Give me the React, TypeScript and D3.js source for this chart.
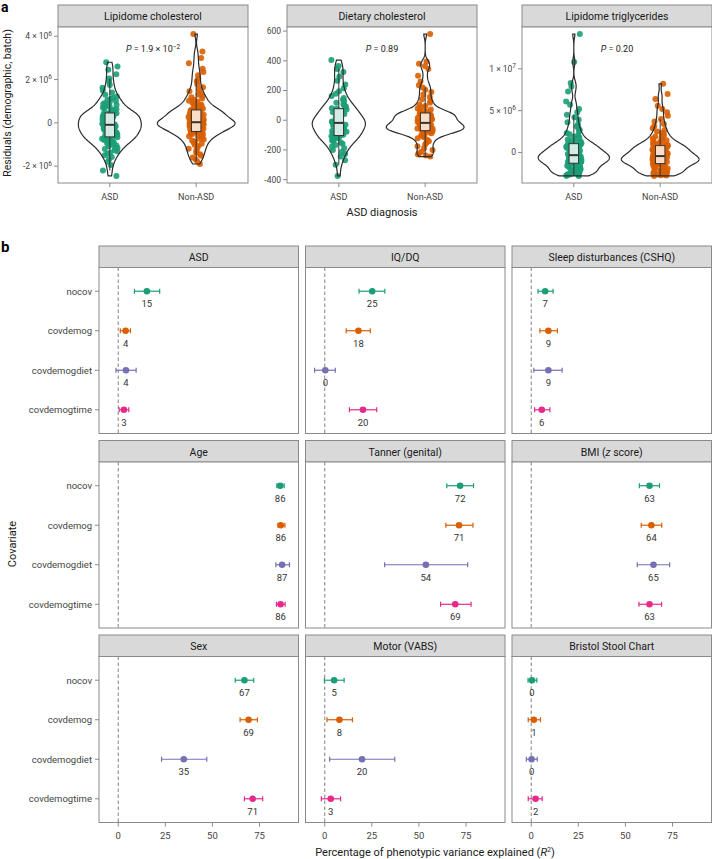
import { area, deviation, extent, max, min, quantile, range, scaleLinear, scalePoint } from 'd3'

const width = 712
const height = 859
const font = 'Roboto, "Noto Sans", sans-serif'
const frameGray = '#8a8a8a'
const stripFill = '#d9d9d9'
const textDark = '#1a1a1a'
const textTick = '#444444'

// ---------- panel a: residuals by ASD diagnosis ----------
const groups = ['ASD', 'Non-ASD']
const groupColors = ['#1b9e77', '#d95f02']
const boxFills = ['#d3ebe2', '#fbdcc6']

// lipidome cholesterol residuals, x 10^6
const lipidCholAsd = [
  -2.45, -2.2, -1.95, -1.8, -1.68, -1.58, -1.5, -1.43, -1.37, -1.31, -1.26, -1.21, -1.16, -1.12, -1.08, -1.04, -1.0, -0.97, -0.94, -0.91, -0.88, -0.85, -0.82, -0.79, -0.77, -0.75, -0.73, -0.71, -0.69, -0.67,
  -0.64, -0.62, -0.6, -0.58, -0.56, -0.54, -0.52, -0.5, -0.48, -0.46, -0.44, -0.42, -0.4, -0.38, -0.36, -0.34, -0.32, -0.3, -0.28, -0.26, -0.24, -0.22, -0.2, -0.18, -0.16, -0.14, -0.13, -0.12, -0.11, -0.1,
  -0.08, -0.06, -0.04, -0.02, 0.0, 0.02, 0.04, 0.06, 0.08, 0.1, 0.12, 0.14, 0.16, 0.18, 0.2, 0.22, 0.24, 0.26, 0.28, 0.3, 0.32, 0.34, 0.36, 0.38, 0.39, 0.4, 0.41, 0.42, 0.44, 0.45,
  0.48, 0.51, 0.54, 0.57, 0.6, 0.63, 0.67, 0.71, 0.75, 0.79, 0.83, 0.87, 0.91, 0.96, 1.01, 1.06, 1.11, 1.16, 1.22, 1.3, 1.4, 1.5, 1.62, 1.75, 1.9, 2.05, 2.25, 2.45, 2.6, 2.8,
]
const lipidCholNonAsd = [
  -1.9, -1.78, -1.68, -1.6, -1.52, -1.45, -1.38, -1.31, -1.25, -1.19, -1.13, -1.07, -1.01, -0.96, -0.91, -0.86, -0.81, -0.77, -0.73, -0.69, -0.65, -0.62, -0.59, -0.56, -0.53, -0.5, -0.48, -0.46, -0.44, -0.42,
  -0.39, -0.37, -0.35, -0.33, -0.31, -0.29, -0.27, -0.25, -0.23, -0.21, -0.2, -0.18, -0.16, -0.15, -0.13, -0.12, -0.1, -0.09, -0.07, -0.06, -0.05, -0.04, -0.03, -0.02, -0.01, 0.0, 0.0, 0.01, 0.02, 0.02,
  0.04, 0.05, 0.07, 0.09, 0.11, 0.13, 0.15, 0.17, 0.19, 0.21, 0.23, 0.25, 0.27, 0.29, 0.31, 0.33, 0.35, 0.37, 0.39, 0.41, 0.43, 0.45, 0.47, 0.49, 0.51, 0.53, 0.55, 0.57, 0.58, 0.59,
  0.62, 0.65, 0.68, 0.72, 0.76, 0.8, 0.84, 0.88, 0.92, 0.97, 1.02, 1.07, 1.12, 1.18, 1.24, 1.3, 1.38, 1.46, 1.55, 1.65, 1.78, 1.92, 2.05, 2.2, 2.35, 2.5, 2.75, 3.0, 3.3, 4.1,
]
// dietary cholesterol residuals
const dietCholAsd = [
  -375, -300, -270, -245, -228, -214, -200, -188, -177, -167, -158, -150, -142, -135, -128, -122, -117, -112, -108, -106,
  -102, -97, -92, -87, -82, -77, -72, -67, -62, -57, -52, -47, -42, -38, -34, -30, -26, -23, -21, -19,
  -17, -13, -9, -5, -1, 3, 7, 12, 17, 22, 27, 32, 37, 42, 48, 54, 60, 66, 72, 77,
  80, 86, 93, 100, 108, 117, 127, 138, 150, 163, 178, 195, 215, 240, 265, 295, 325, 345, 365, 405,
]
const dietCholNonAsd = [
  -245, -238, -230, -222, -212, -200, -188, -176, -164, -152, -141, -131, -122, -114, -107, -101, -96, -91, -87, -83, -80, -77, -75, -73, -72,
  -70, -68, -66, -64, -62, -60, -58, -56, -54, -52, -50, -48, -46, -44, -42, -40, -38, -36, -34, -31, -28, -25, -23, -21, -19,
  -17, -14, -11, -8, -5, -2, 1, 4, 7, 10, 13, 16, 19, 22, 25, 28, 31, 34, 37, 40, 42, 44, 46, 47, 48,
  51, 55, 60, 66, 72, 79, 87, 96, 106, 117, 129, 142, 157, 173, 190, 205, 220, 235, 260, 300, 345, 365, 380, 395, 580,
]
// lipidome triglyceride residuals, x 10^6
const lipidTgAsd = [
  -2.8, -2.77, -2.74, -2.7, -2.66, -2.62, -2.57, -2.52, -2.47, -2.42, -2.37, -2.32, -2.27, -2.22, -2.17, -2.12, -2.07, -2.02, -1.96, -1.9, -1.84, -1.78, -1.72, -1.66, -1.6, -1.54, -1.48, -1.43, -1.38, -1.33,
  -1.27, -1.24, -1.21, -1.18, -1.15, -1.12, -1.09, -1.06, -1.03, -1.0, -0.97, -0.94, -0.9, -0.86, -0.82, -0.78, -0.74, -0.7, -0.66, -0.62, -0.58, -0.55, -0.52, -0.49, -0.46, -0.43, -0.4, -0.38, -0.36, -0.34,
  -0.3, -0.26, -0.22, -0.18, -0.14, -0.1, -0.06, -0.02, 0.02, 0.06, 0.1, 0.15, 0.2, 0.25, 0.3, 0.35, 0.4, 0.45, 0.5, 0.55, 0.6, 0.65, 0.7, 0.75, 0.8, 0.85, 0.9, 0.95, 1.0, 1.04,
  1.1, 1.18, 1.26, 1.35, 1.45, 1.55, 1.66, 1.78, 1.9, 2.04, 2.18, 2.34, 2.5, 2.7, 2.9, 3.1, 3.35, 3.6, 3.9, 4.2, 4.5, 4.8, 5.2, 5.7, 6.1, 7.3, 7.9, 8.3, 10.8, 14.15,
]
const lipidTgNonAsd = [
  -2.8, -2.76, -2.72, -2.67, -2.62, -2.57, -2.52, -2.47, -2.42, -2.37, -2.32, -2.27, -2.22, -2.17, -2.12, -2.07, -2.02, -1.97, -1.92, -1.86, -1.8, -1.74, -1.68, -1.62, -1.57, -1.52, -1.47, -1.43, -1.39, -1.36,
  -1.32, -1.29, -1.26, -1.23, -1.2, -1.17, -1.14, -1.11, -1.08, -1.05, -1.02, -0.99, -0.96, -0.93, -0.9, -0.87, -0.84, -0.81, -0.78, -0.75, -0.72, -0.69, -0.66, -0.63, -0.6, -0.57, -0.54, -0.51, -0.48, -0.45,
  -0.41, -0.37, -0.33, -0.29, -0.25, -0.21, -0.17, -0.13, -0.09, -0.05, -0.01, 0.03, 0.07, 0.11, 0.15, 0.19, 0.23, 0.28, 0.33, 0.38, 0.43, 0.48, 0.53, 0.58, 0.63, 0.68, 0.72, 0.76, 0.79, 0.81,
  0.86, 0.92, 0.98, 1.05, 1.12, 1.2, 1.28, 1.37, 1.46, 1.56, 1.66, 1.78, 1.9, 2.04, 2.18, 2.34, 2.5, 2.7, 2.9, 3.15, 3.4, 3.7, 4.0, 4.4, 4.8, 5.2, 5.6, 6.4, 7.0, 8.2,
]

const violinTitles = ['Lipidome cholesterol', 'Dietary cholesterol', 'Lipidome triglycerides']
const violinUnits = [1e6, 1, 1e6]
const violinSeries = [
  [lipidCholAsd, lipidCholNonAsd],
  [dietCholAsd, dietCholNonAsd],
  [lipidTgAsd, lipidTgNonAsd],
]
const violinTicks = [
  [-2e6, 0, 2e6, 4e6],
  [-400, -200, 0, 200, 400, 600],
  [0, 5e6, 1e7],
]
const pValues = [
  { mantissa: '1.9', exponent: '−2' },
  { mantissa: '0.89', exponent: '' },
  { mantissa: '0.20', exponent: '' },
]

// ---------- panel b: variance explained ----------
const covariates = ['nocov', 'covdemog', 'covdemogdiet', 'covdemogtime']
const covariateColors = ['#1b9e77', '#d95f02', '#7570b3', '#e7298a']
const phenotypes = [
  'ASD', 'IQ/DQ', 'Sleep disturbances (CSHQ)',
  'Age', 'Tanner (genital)', 'BMI (z score)',
  'Sex', 'Motor (VABS)', 'Bristol Stool Chart',
]
const r2Estimate = [
  [15.2, 3.9, 4.1, 3.0], [25.2, 17.9, 0.3, 20.3], [7.4, 9.1, 9.1, 5.6],
  [86.0, 86.3, 87.0, 86.2], [71.9, 71.3, 53.7, 69.3], [62.8, 63.8, 64.9, 62.8],
  [67.0, 69.2, 34.8, 71.4], [5.0, 7.8, 19.8, 3.2], [0.4, 1.4, 0.2, 2.3],
]
const r2Lower = [
  [8.6, 1.1, -1.2, 0.5], [18.2, 11.4, -5.4, 13.1], [3.6, 4.6, 1.4, 1.8],
  [84.2, 84.8, 83.7, 84.0], [64.8, 64.3, 31.8, 61.5], [57.4, 58.4, 56.3, 57.2],
  [62.1, 64.7, 23.0, 67.0], [-0.2, 1.2, 2.6, -1.8], [-1.7, -1.6, -2.6, -1.6],
]
const r2Upper = [
  [22.0, 6.5, 9.5, 5.6], [31.9, 24.2, 5.6, 27.6], [11.6, 13.9, 16.4, 9.9],
  [88.1, 88.5, 90.9, 88.6], [79.0, 78.7, 75.9, 77.7], [68.1, 69.3, 73.5, 69.2],
  [71.9, 73.9, 47.0, 76.7], [10.3, 14.7, 37.2, 8.4], [3.0, 4.9, 3.2, 5.8],
]
const r2Ticks = [0, 25, 50, 75]

// ---------- layout ----------
const aLefts = [58, 287, 522]
const aWidth = 190
const aStripTop = 5
const aPlotTop = 27
const aPlotBottom = 183

const bLefts = [99, 305.5, 512]
const bWidth = 199.5
const bRowTops = [246, 440.5, 635]
const bStrip = 21.5
const bPanelH = 166

// helpers
const kde = (values: number[]) => {
  const s = [...values].sort((a, b) => a - b)
  const n = s.length
  const q1 = quantile(s, 0.25) ?? 0
  const q3 = quantile(s, 0.75) ?? 0
  const bw = 0.8 * 0.9 * Math.min(deviation(s) ?? 1, (q3 - q1) / 1.34) * Math.pow(n, -0.2)
  const lo = s[0]
  const hi = s[n - 1]
  return range(0, 256).map((i) => {
    const y = lo + ((hi - lo) * i) / 255
    let sum = 0
    for (const v of s) sum += Math.exp(-0.5 * ((y - v) / bw) ** 2)
    return { y, d: sum / (n * bw * Math.sqrt(2 * Math.PI)) }
  })
}

const boxStats = (values: number[]) => {
  const s = [...values].sort((a, b) => a - b)
  const q1 = quantile(s, 0.25) ?? 0
  const med = quantile(s, 0.5) ?? 0
  const q3 = quantile(s, 0.75) ?? 0
  const iqr = q3 - q1
  const lo = min(s.filter((v) => v >= q1 - 1.5 * iqr)) ?? q1
  const hi = max(s.filter((v) => v <= q3 + 1.5 * iqr)) ?? q3
  return { q1, med, q3, lo, hi }
}

const jitter = (i: number, g: number) => {
  const s = Math.sin((i + 1) * 12.9898 + g * 78.233) * 43758.5453
  return (s - Math.floor(s)) * 2 - 1
}

const sciLabel = (v: number) => {
  if (v === 0) return '0'
  if (Math.abs(v) < 1e4) return v < 0 ? `-${Math.abs(v)}` : `${v}`
  const e = Math.floor(Math.log10(Math.abs(v)))
  const m = v / 10 ** e
  return (
    <>
      {`${m < 0 ? '-' : ''}${Math.abs(m)} × 10`}
      <tspan dy={-3.5} fontSize={6.5}>{e}</tspan>
    </>
  )
}

const stripTitle = (t: string) =>
  t === 'BMI (z score)' ? (
    <>
      BMI (<tspan fontStyle="italic">z</tspan> score)
    </>
  ) : (
    t
  )

const ViolinPanel = ({ idx }: { idx: number }) => {
  const left = aLefts[idx]
  const right = left + aWidth
  const unit = violinUnits[idx]
  const series = violinSeries[idx].map((arr) => arr.map((v) => v * unit))
  const all = series.flat()
  const [lo, hi] = extent(all) as [number, number]
  const pad = (hi - lo) * 0.05
  const y = scaleLinear().domain([lo - pad, hi + pad]).range([aPlotBottom, aPlotTop])
  const x = scalePoint<string>().domain(groups).range([left, right]).padding(0.6)
  const step = x.step()
  const dens = series.map(kde)
  const maxD = max(dens.flat(), (d) => d.d) ?? 1
  const p = pValues[idx]

  return (
    <g>
      <rect x={left} y={aStripTop} width={aWidth} height={aPlotTop - aStripTop} fill={stripFill} stroke={frameGray} strokeWidth={1} />
      <text x={left + aWidth / 2} y={20} textAnchor="middle" fontSize={10.5} fill={textDark}>
        {violinTitles[idx]}
      </text>
      <rect x={left} y={aPlotTop} width={aWidth} height={aPlotBottom - aPlotTop} fill="white" stroke={frameGray} strokeWidth={1} />

      {violinTicks[idx].map((t) => (
        <g key={t}>
          <line x1={left - 4} x2={left} y1={y(t)} y2={y(t)} stroke={frameGray} />
          <text x={left - 6} y={y(t)} dy="0.35em" textAnchor="end" fontSize={8.5} fill={textTick}>
            {sciLabel(t)}
          </text>
        </g>
      ))}
      {groups.map((g) => (
        <g key={g}>
          <line x1={x(g)} x2={x(g)} y1={aPlotBottom} y2={aPlotBottom + 4} stroke={frameGray} />
          <text x={x(g)} y={199.5} textAnchor="middle" fontSize={9} fill={textTick}>
            {g}
          </text>
        </g>
      ))}

      {/* jittered points */}
      {series.map((vals, gi) =>
        vals.map((v, i) => (
          <circle
            key={`${gi}-${i}`}
            cx={(x(groups[gi]) ?? 0) + jitter(i, gi + idx * 3) * 0.09 * step}
            cy={y(v)}
            r={3}
            fill={groupColors[gi]}
            fillOpacity={0.9}
          />
        )),
      )}

      {/* violins */}
      {dens.map((d, gi) => {
        const cx = x(groups[gi]) ?? 0
        const w = (v: number) => (v / maxD) * 0.45 * step
        const path = area<{ y: number; d: number }>()
          .y((q) => y(q.y))
          .x0((q) => cx - w(q.d))
          .x1((q) => cx + w(q.d))(d)
        return <path key={gi} d={path ?? ''} fill="none" stroke="#2b2b2b" strokeWidth={1.2} />
      })}

      {/* boxes */}
      {series.map((vals, gi) => {
        const b = boxStats(vals)
        const cx = x(groups[gi]) ?? 0
        const bw = 0.055 * step
        return (
          <g key={gi}>
            <line x1={cx} x2={cx} y1={y(b.hi)} y2={y(b.q3)} stroke="#333" strokeWidth={1} />
            <line x1={cx} x2={cx} y1={y(b.q1)} y2={y(b.lo)} stroke="#333" strokeWidth={1} />
            <rect x={cx - bw} y={y(b.q3)} width={bw * 2} height={y(b.q1) - y(b.q3)} fill={boxFills[gi]} stroke="#333" strokeWidth={1} />
            <line x1={cx - bw} x2={cx + bw} y1={y(b.med)} y2={y(b.med)} stroke="#333" strokeWidth={2} />
          </g>
        )
      })}

      <text x={left + aWidth / 2} y={52} textAnchor="middle" fontSize={9} fill={textDark}>
        <tspan fontStyle="italic">P</tspan>
        {` = ${p.mantissa}`}
        {p.exponent && (
          <>
            {' × 10'}
            <tspan dy={-3.5} fontSize={6.5}>{p.exponent}</tspan>
          </>
        )}
      </text>
    </g>
  )
}

const allLow = min(r2Lower.flat()) ?? 0
const allHigh = max(r2Upper.flat()) ?? 100
const r2Pad = (allHigh - allLow) * 0.05

const ForestPanel = ({ idx }: { idx: number }) => {
  const col = idx % 3
  const row = Math.floor(idx / 3)
  const left = bLefts[col]
  const top = bRowTops[row]
  const pTop = top + bStrip
  const pBottom = pTop + bPanelH
  const x = scaleLinear().domain([allLow - r2Pad, allHigh + r2Pad]).range([left, left + bWidth])
  const y = scalePoint<string>().domain(covariates).range([pTop, pBottom]).padding(0.6)

  return (
    <g>
      <rect x={left} y={top} width={bWidth} height={bStrip} fill={stripFill} stroke={frameGray} strokeWidth={1} />
      <text x={left + bWidth / 2} y={top + 15} textAnchor="middle" fontSize={10.5} fill={textDark}>
        {stripTitle(phenotypes[idx])}
      </text>
      <rect x={left} y={pTop} width={bWidth} height={bPanelH} fill="white" stroke={frameGray} strokeWidth={1} />
      <line x1={x(0)} x2={x(0)} y1={pTop} y2={pBottom} stroke="#8c8c8c" strokeWidth={1.1} strokeDasharray="3.5 2.5" />

      {col === 0 &&
        covariates.map((c) => (
          <g key={c}>
            <line x1={left - 4} x2={left} y1={y(c)} y2={y(c)} stroke={frameGray} />
            <text x={left - 7} y={y(c)} dy="0.35em" textAnchor="end" fontSize={9.5} fill={textTick}>
              {c}
            </text>
          </g>
        ))}
      {row === 2 &&
        r2Ticks.map((t) => (
          <g key={t}>
            <line x1={x(t)} x2={x(t)} y1={pBottom} y2={pBottom + 4} stroke={frameGray} />
            <text x={x(t)} y={pBottom + 16.5} textAnchor="middle" fontSize={9.5} fill={textTick}>
              {t}
            </text>
          </g>
        ))}

      {covariates.map((c, ci) => {
        const cy = y(c) ?? 0
        const est = r2Estimate[idx][ci]
        const lo = x(r2Lower[idx][ci])
        const hi = x(r2Upper[idx][ci])
        const color = covariateColors[ci]
        return (
          <g key={c}>
            <line x1={lo} x2={hi} y1={cy} y2={cy} stroke={color} strokeWidth={1.2} />
            <line x1={lo} x2={lo} y1={cy - 2.5} y2={cy + 2.5} stroke={color} strokeWidth={1.2} />
            <line x1={hi} x2={hi} y1={cy - 2.5} y2={cy + 2.5} stroke={color} strokeWidth={1.2} />
            <circle cx={x(est)} cy={cy} r={3.3} fill={color} />
            <text x={x(est)} y={cy + 16} textAnchor="middle" fontSize={9.5} fill="#333">
              {Math.round(est)}
            </text>
          </g>
        )
      })}
    </g>
  )
}

export default function App() {
  return (
    <svg
      width={width}
      height={height}
      viewBox={`0 0 ${width} ${height}`}
      style={{ position: 'absolute', left: 0, top: 0, background: 'white', fontFamily: font }}
    >
      <rect width={width} height={height} fill="white" />
      <text x={1} y={12} fontSize={14} fontWeight="bold" fill="#000">a</text>
      <text x={1} y={252} fontSize={15} fontWeight="bold" fill="#000">b</text>

      {violinTitles.map((t, i) => (
        <ViolinPanel key={t} idx={i} />
      ))}
      <text x={382} y={216} textAnchor="middle" fontSize={11} fill={textDark}>
        ASD diagnosis
      </text>
      <text transform="translate(11, 103) rotate(-90)" textAnchor="middle" fontSize={10.5} fill={textDark}>
        Residuals (demographic, batch)
      </text>

      {phenotypes.map((p, i) => (
        <ForestPanel key={p} idx={i} />
      ))}
      <text x={435} y={856} textAnchor="middle" fontSize={11} fill={textDark}>
        Percentage of phenotypic variance explained (<tspan fontStyle="italic">R</tspan>
        <tspan dy={-4} fontSize={7}>2</tspan>
        <tspan dy={4}>)</tspan>
      </text>
      <text transform="translate(16, 544) rotate(-90)" textAnchor="middle" fontSize={11} fill={textDark}>
        Covariate
      </text>
    </svg>
  )
}
